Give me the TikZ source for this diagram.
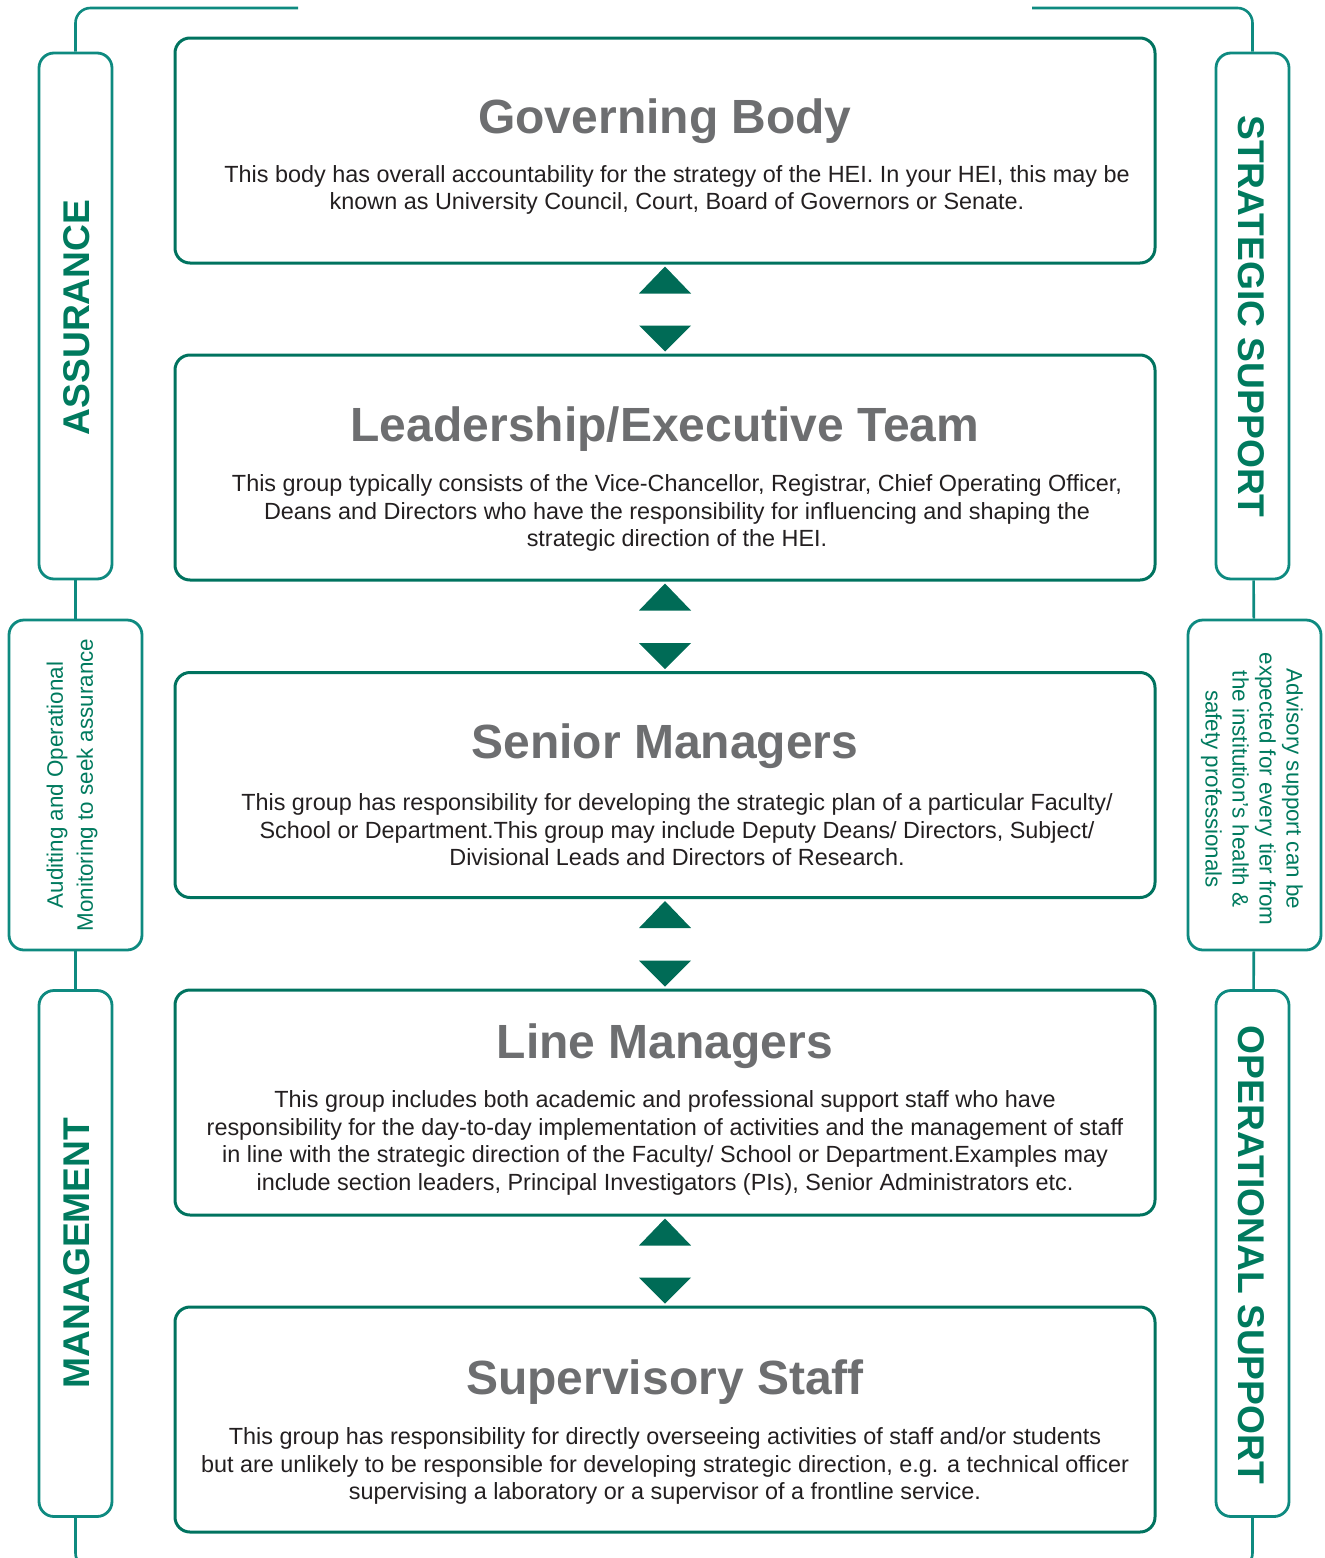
\documentclass[tikz,border=0pt]{standalone}
\usepackage{fontspec}
\setmainfont{Liberation Sans}
\usepackage{xcolor}
\usetikzlibrary{calc}

\definecolor{BoxTeal}{HTML}{00735F}
\definecolor{SideTeal}{HTML}{0E8A80}
\definecolor{TriTeal}{HTML}{006B56}
\definecolor{LabelTeal}{HTML}{007A5E}
\definecolor{TitleGray}{HTML}{6D6E70}
\definecolor{BodyInk}{HTML}{231F20}

\begin{document}
\begin{tikzpicture}[x=0.5pt, y=-0.5pt,
	tier/.style={draw=BoxTeal, line width=1.5pt, rounded corners=7.5pt, minimum width=490pt, minimum height=112.5pt, inner sep=0pt},
	narrow/.style={draw=SideTeal, line width=1.4pt, rounded corners=7.5pt, minimum width=36.5pt, minimum height=263pt, inner sep=0pt},
	wide/.style={draw=SideTeal, line width=1.4pt, rounded corners=7.5pt, minimum width=66.5pt, minimum height=165pt, inner sep=0pt},
	link/.style={draw=SideTeal, line width=1.3pt},
	title/.style={text=TitleGray, font=\fontsize{24}{28}\selectfont\bfseries},
	body/.style={text=BodyInk, align=center, font=\fontsize{11.7}{13.8}\selectfont},
	biglabel/.style={text=LabelTeal, font=\fontsize{18.6}{22}\selectfont\bfseries},
	smalllabel/.style={text=LabelTeal, align=center, font=\fontsize{11.2}{15}\selectfont}]
	\clip (0,0) rectangle (1324,1558);

	\node[tier] (gov) at (665,150.5) {};
	\node[tier] (lead) at (665,467.5) {};
	\node[tier] (senior) at (665,785) {};
	\node[tier] (linemgr) at (665,1102.5) {};
	\node[tier] (superv) at (665,1419.5) {};

	\node[title] (govT) at (665,121) {Governing Body};
	\node[body] (govB) at (677,190) {This body has overall accountability for the strategy of the HEI. In your HEI, this may be\\known as University Council, Court, Board of Governors or Senate.};

	\node[title] (leadT) at (665,429) {Leadership/Executive Team};
	\node[body] (leadB) at (677,513) {This group typically consists of the Vice-Chancellor, Registrar, Chief Operating Officer,\\Deans and Directors who have the responsibility for influencing and shaping the\\strategic direction of the HEI.};

	\node[title] (seniorT) at (665,746) {Senior Managers};
	\node[body] (seniorB) at (677,830) {This group has responsibility for developing the strategic plan of a particular Faculty/\\School or Department.This group may include Deputy Deans/ Directors, Subject/\\Divisional Leads and Directors of Research.};

	\node[title] (linemgrT) at (665,1046) {Line Managers};
	\node[body] (linemgrB) at (665,1143) {This group includes both academic and professional support staff who have\\responsibility for the day-to-day implementation of activities and the management of staff\\in line with the strategic direction of the Faculty/ School or Department.Examples may\\include section leaders, Principal Investigators (PIs), Senior Administrators etc.};

	\node[title] (supervT) at (665,1382) {Supervisory Staff};
	\node[body] (supervB) at (665,1466) {This group has responsibility for directly overseeing activities of staff and/or students\\but are unlikely to be responsible for developing strategic direction, e.g. a technical officer\\supervising a laboratory or a supervisor of a frontline service.};

	\foreach \a/\b in {gov/lead, lead/senior, senior/linemgr, linemgr/superv} {
		\fill[TriTeal] ($(\a.south)+(0,2)$) -- ++(26,27) -- ++(-52,0) -- cycle;
		\fill[TriTeal] ($(\b.north)+(0,-2)$) -- ++(26,-26) -- ++(-52,0) -- cycle;
	}

	\node[narrow] (assur) at (75.5,316) {};
	\node[wide] (audit) at (75.5,785) {};
	\node[narrow] (manag) at (75.5,1253.5) {};
	\node[narrow] (strat) at (1252.5,316) {};
	\node[wide] (advis) at (1254.5,785) {};
	\node[narrow] (oper) at (1252.5,1253.5) {};

	\node[biglabel, rotate=90] (assurL) at (77,317.5) {ASSURANCE};
	\node[smalllabel, rotate=90] (auditL) at (72,785) {Auditing and Operational\\Monitoring to seek assurance};
	\node[biglabel, rotate=90] (managL) at (77,1253) {MANAGEMENT};
	\node[biglabel, rotate=-90] (stratL) at (1251,316.5) {STRATEGIC SUPPORT};
	\node[smalllabel, rotate=-90, font=\fontsize{11.2}{13.5}\selectfont] (advisL) at (1252,789) {Advisory support can be\\expected for every tier from\\the institution’s health \&\\safety professionals};
	\node[biglabel, rotate=-90] (operL) at (1251,1255) {OPERATIONAL SUPPORT};

	\coordinate (topL) at (298,8);
	\coordinate (botL) at (298,1568);
	\coordinate (topR) at (1032,8);
	\coordinate (botR) at (1030,1568);

	\draw[link] (assur) -- (audit);
	\draw[link] (audit) -- (manag);
	\draw[link] (strat) -- (advis);
	\draw[link] (advis) -- (oper);
	\draw[link, rounded corners=7.5pt] (assur.north) |- (topL);
	\draw[link, rounded corners=7.5pt] (manag.south) |- (botL);
	\draw[link, rounded corners=7.5pt] (strat.north) |- (topR);
	\draw[link, rounded corners=7.5pt] (oper.south) |- (botR);
\end{tikzpicture}
\end{document}
